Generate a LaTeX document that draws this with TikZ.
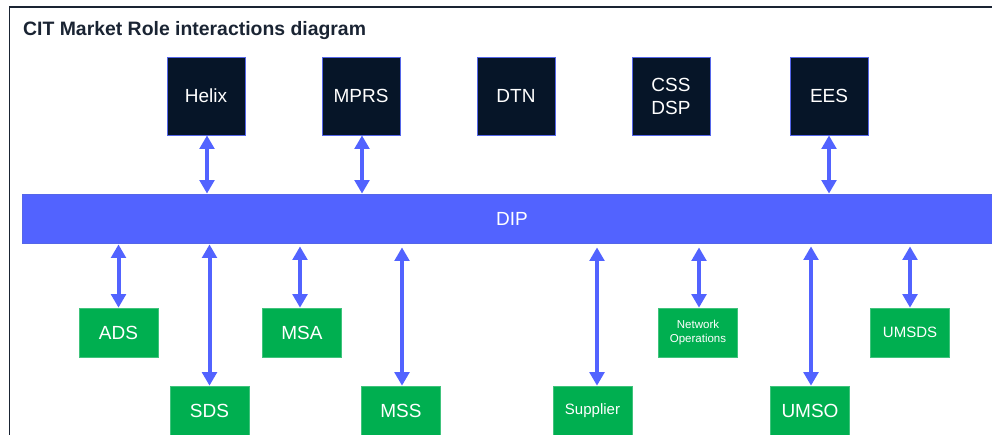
\documentclass[tikz,border=0pt]{standalone}
\usepackage{fontspec}
\setmainfont{Liberation Sans}
\usetikzlibrary{arrows.meta,calc}
\definecolor{navy}{HTML}{061528}
\definecolor{dipblue}{HTML}{5263FF}
\definecolor{boxedge}{HTML}{5566E8}
\definecolor{grn}{HTML}{00AF50}
\definecolor{framec}{HTML}{1A2433}
\begin{document}
\begin{tikzpicture}[x=1pt,y=-1pt,
  sysbox/.style={draw=boxedge, line width=0.8pt, fill=navy, text=white,
    minimum width=78pt, minimum height=78pt, inner sep=0pt,
    font=\fontsize{19}{23}\selectfont, align=center},
  rolebox/.style={draw=grn!75!white, line width=0.6pt, fill=grn, text=white,
    minimum width=79pt, minimum height=49pt, inner sep=0pt,
    font=\fontsize{19}{22}\selectfont, align=center},
  smalltext/.style={font=\fontsize{15}{18}\selectfont},
  tinytext/.style={font=\fontsize{11.5}{14}\selectfont},
  dipbar/.style={draw=boxedge, line width=0.8pt, fill=dipblue, text=white,
    minimum width=980pt, minimum height=49pt, inner sep=0pt,
    font=\fontsize{19}{23}\selectfont},
  link/.style={draw=dipblue, line width=4pt,
    {Triangle[width=14.5pt,length=13.5pt]}-{Triangle[width=14.5pt,length=13.5pt]}}]
\clip (0,0) rectangle (992,434);
\fill[white] (0,0) rectangle (992,434);
% frame
\draw[framec, line width=1.5pt] (9.5,440) -- (9.5,7) -- (1000,7);
% title
\node[anchor=base west, inner sep=0pt, font=\bfseries\fontsize{19.4}{23}\selectfont, text=framec] (title) at (23,35) {CIT Market Role interactions diagram};
% bus
\node[dipbar] (DIP) at (512,218.5) {DIP};
% systems
\node[sysbox] (Helix) at (206,96) {Helix};
\node[sysbox] (MPRS) at (361,96) {MPRS};
\node[sysbox] (DTN) at (516,96) {DTN};
\node[sysbox] (CSS) at (671,96) {CSS\\DSP};
\node[sysbox] (EES) at (829,96) {EES};
% roles
\node[rolebox] (ADS) at (118.5,332.5) {ADS};
\node[rolebox] (MSA) at (302,332.5) {MSA};
\node[rolebox, tinytext] (NetOps) at (698,332.5) {Network\\Operations};
\node[rolebox, smalltext] (UMSDS) at (910,332.5) {UMSDS};
\node[rolebox] (SDS) at (209.5,410.5) {SDS};
\node[rolebox] (MSS) at (401,410.5) {MSS};
\node[rolebox, smalltext] (Supplier) at (592.5,410.5) {Supplier};
\node[rolebox] (UMSO) at (810,410.5) {UMSO};
% links to systems
\draw[link] ($(Helix.south)+(1,0)$) -- ($(Helix.south |- DIP.north)+(1,0)$);
\draw[link] ($(MPRS.south)+(1,0)$) -- ($(MPRS.south |- DIP.north)+(1,0)$);
\draw[link] (EES.south) -- (EES.south |- DIP.north);
% links to roles
\draw[link] ($(ADS.north |- DIP.south)+(0,1)$) -- (ADS.north);
\draw[link] ($(SDS.north |- DIP.south)+(0,1)$) -- (SDS.north);
\draw[link] ($(MSA.north |- DIP.south)+(-2,3)$) -- ($(MSA.north)+(-2,0)$);
\draw[link] ($(MSS.north |- DIP.south)+(1,4)$) -- ($(MSS.north)+(1,0)$);
\draw[link] ($(Supplier.north |- DIP.south)+(4.5,4)$) -- ($(Supplier.north)+(4.5,0)$);
\draw[link] ($(NetOps.north |- DIP.south)+(1,4)$) -- ($(NetOps.north)+(1,0)$);
\draw[link] ($(UMSO.north |- DIP.south)+(1,3)$) -- ($(UMSO.north)+(1,0)$);
\draw[link] ($(UMSDS.north |- DIP.south)+(0,3)$) -- (UMSDS.north);
\end{tikzpicture}
\end{document}
